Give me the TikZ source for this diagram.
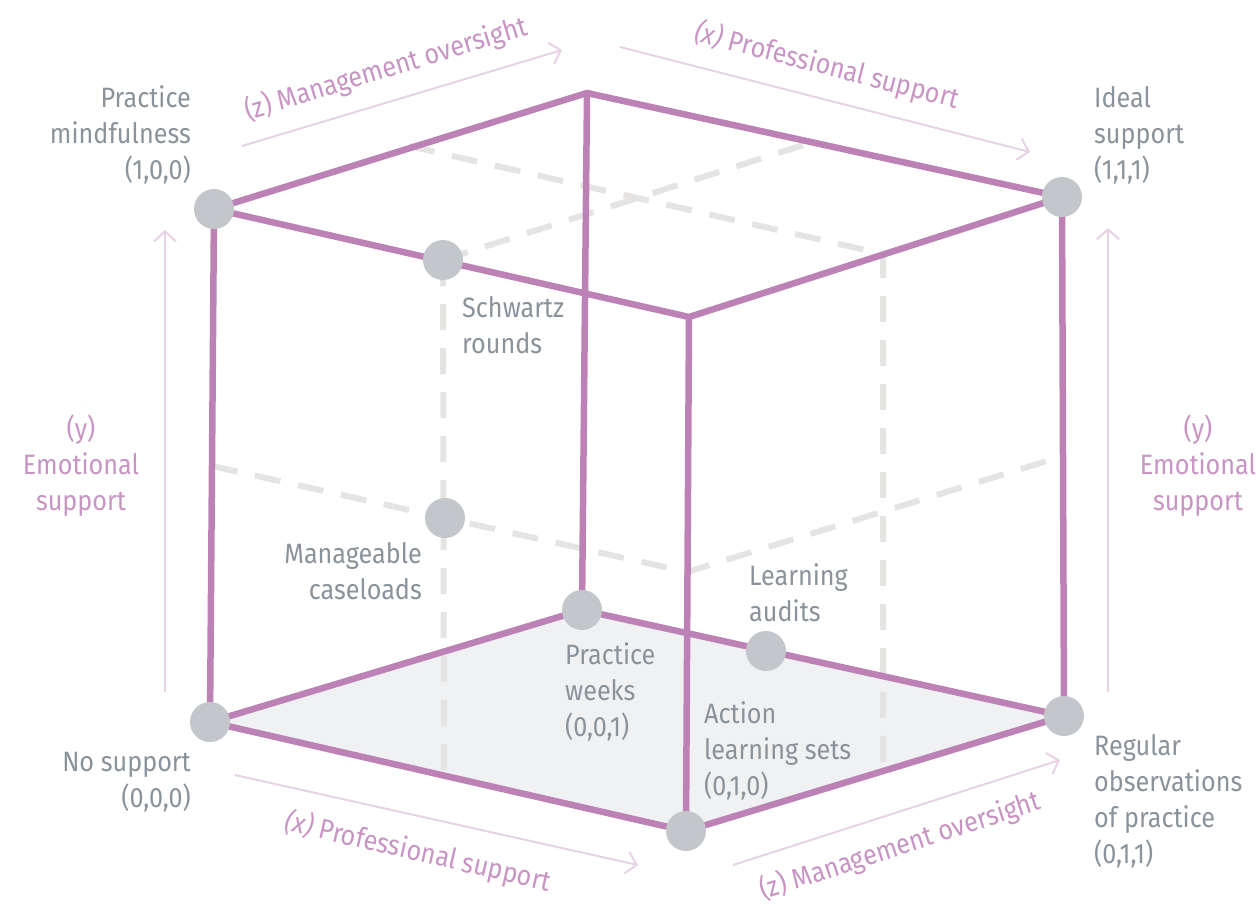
\documentclass[tikz,border=0pt]{standalone}
\usepackage{fontspec}
\setmainfont{Fira Sans}[FakeStretch=0.9]
\usetikzlibrary{arrows.meta}

\definecolor{edgepurple}{HTML}{BC82B6}
\definecolor{axispink}{HTML}{E8D2E6}
\definecolor{axistext}{HTML}{C794C3}
\definecolor{labelgray}{HTML}{8A939B}
\definecolor{dotgray}{HTML}{C3C6CA}
\definecolor{hiddengray}{HTML}{E5E4E2}
\definecolor{floorgray}{HTML}{F0F1F3}

\tikzset{
  cubeedge/.style={draw=edgepurple, line width=6.5pt},
  hiddenline/.style={draw=hiddengray, line width=6pt, dash pattern=on 26pt off 18pt},
  axisarrow/.style={draw=axispink, line width=2pt, -{Straight Barb[length=10pt,width=22pt]}},
  dot/.style={circle, fill=dotgray, minimum size=40pt, inner sep=0pt},
  txt/.style={font=\fontsize{28}{36}\selectfont, inner sep=0pt},
  lbl/.style={txt, text=labelgray},
  axlbl/.style={txt, text=axistext},
}

\begin{document}
\begin{tikzpicture}[x=1pt,y=-1pt]
\useasboundingbox (0,0) rectangle (1259,906);

% cube corners
\coordinate (A) at (210,722);   % (0,0,0)
\coordinate (B) at (582,610);   % (0,0,1)
\coordinate (C) at (686,831);   % (0,1,0)
\coordinate (D) at (1064,716);  % (0,1,1)
\coordinate (E) at (214,209);   % (1,0,0)
\coordinate (F) at (587,93);
\coordinate (G) at (1062,197);  % (1,1,1)
\coordinate (H) at (689,317);

% points of the inner planes
\coordinate (zt1) at (409,146);
\coordinate (zt2) at (883,254);
\coordinate (zb)  at (883,771);
\coordinate (S)   at (443,260);
\coordinate (xt)  at (813,142);
\coordinate (xb)  at (444,776);
\coordinate (y1)  at (212,466);
\coordinate (M)   at (445,518);
\coordinate (y2)  at (687,572);
\coordinate (y3)  at (1063,456);
\coordinate (L)   at (766,651);

% floor
\fill[floorgray] (A) -- (B) -- (D) -- (C) -- cycle;

% hidden mid-planes
\draw[hiddenline] (zt1) -- (zt2) -- (zb);
\draw[hiddenline] (S) -- (xt);
\draw[hiddenline] (S) -- (xb);
\draw[hiddenline] (y1) -- (M) -- (y2) -- (y3);

% cube edges
\draw[cubeedge] (E) -- (F) -- (G) -- (H) -- cycle;
\draw[cubeedge] (A) -- (B) -- (D) -- (C) -- cycle;
\draw[cubeedge] (E) -- (A);
\draw[cubeedge] (F) -- (B);
\draw[cubeedge] (G) -- (D);
\draw[cubeedge] (H) -- (C);

% points
\node[dot] (dA) at (A) {};
\node[dot] (dB) at (B) {};
\node[dot] (dC) at (C) {};
\node[dot] (dD) at (D) {};
\node[dot] (dE) at (E) {};
\node[dot] (dG) at (G) {};
\node[dot] (dS) at (S) {};
\node[dot] (dM) at (M) {};
\node[dot] (dL) at (L) {};

% axis arrows
\coordinate (tlA) at (242,146);  \coordinate (tlB) at (562,50);
\coordinate (trA) at (620,47);   \coordinate (trB) at (1030,152);
\coordinate (lvA) at (165,692);  \coordinate (lvB) at (165,230);
\coordinate (rvA) at (1108,692); \coordinate (rvB) at (1108,228);
\coordinate (blA) at (235,775);  \coordinate (blB) at (638,865);
\coordinate (brA) at (733,865);  \coordinate (brB) at (1060,760);
\draw[axisarrow] (tlA) -- (tlB);
\draw[axisarrow] (trA) -- (trB);
\draw[axisarrow] (lvA) -- (lvB);
\draw[axisarrow] (rvA) -- (rvB);
\draw[axisarrow] (blA) -- (blB);
\draw[axisarrow] (brA) -- (brB);

% axis labels
\node[axlbl, rotate=17]    (axTL) at (386,69)  {(z) Management oversight};
\node[axlbl, rotate=-14.5] (axTR) at (827,66)  {\textit{(x)} Professional support};
\node[axlbl, rotate=-13]   (axBL) at (418,852) {\textit{(x)} Professional support};
\node[axlbl, rotate=18]    (axBR) at (900,846) {(z) Management oversight};
\node[axlbl, align=center, anchor=north] (axL) at (81,415)   {(y)\\Emotional\\support};
\node[axlbl, align=center, anchor=north] (axR) at (1198,415) {(y)\\Emotional\\support};

% point labels
\node[lbl, align=right, anchor=north east] (tE) at (191,85)  {Practice\\mindfulness\\(1,0,0)};
\node[lbl, align=left,  anchor=north west] (tG) at (1094,86) {Ideal\\support\\(1,1,1)};
\node[lbl, align=left,  anchor=north west] (tS) at (462,296) {Schwartz\\rounds};
\node[lbl, align=right, anchor=north east] (tM) at (422,542) {Manageable\\caseloads};
\node[lbl, align=left,  anchor=north west] (tL) at (749,563) {Learning\\audits};
\node[lbl, align=left,  anchor=north west] (tB) at (565,642) {Practice\\weeks\\(0,0,1)};
\node[lbl, align=left,  anchor=north west] (tC) at (704,701) {Action\\learning sets\\(0,1,0)};
\node[lbl, align=right, anchor=north east] (tA) at (191,752) {No support\\(0,0,0)};
\node[lbl, align=left,  anchor=north west] (tD) at (1094,734) {Regular\\observations\\of practice\\(0,1,1)};
\end{tikzpicture}
\end{document}
